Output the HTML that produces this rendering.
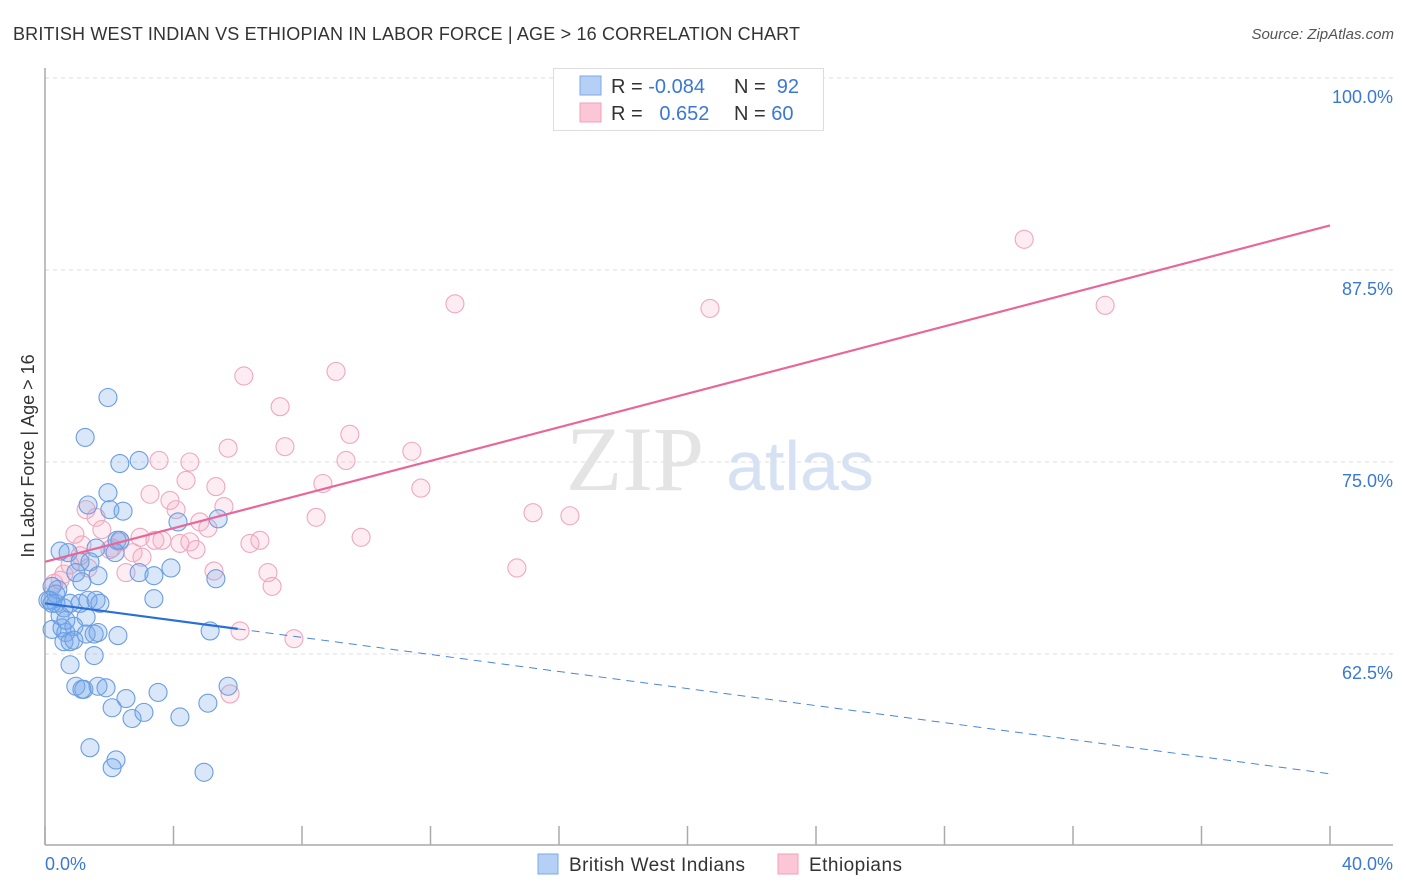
<!DOCTYPE html>
<html><head><meta charset="utf-8"><style>
body{margin:0;background:#fff;font-family:"Liberation Sans",sans-serif;}
svg{display:block}
</style></head><body>
<svg id="chart" width="1406" height="892" xmlns="http://www.w3.org/2000/svg" font-family="Liberation Sans, sans-serif">
<text x="13" y="40" font-size="18" fill="#333" textLength="787">BRITISH WEST INDIAN VS ETHIOPIAN IN LABOR FORCE | AGE &gt; 16 CORRELATION CHART</text>
<text x="1394" y="39" font-size="15" fill="#555" font-style="italic" text-anchor="end">Source: ZipAtlas.com</text>
<g id="grid"></g>
<g>
<text x="635" y="490" font-size="92" font-family="Liberation Serif, serif" fill="#e4e4e4" text-anchor="middle">ZIP</text>
<text x="800" y="490" font-size="70" fill="#d6e2f3" text-anchor="middle">atlas</text>
</g>
<line x1="45" y1="68" x2="45" y2="845" stroke="#aaa" stroke-width="1.5"/>
<line x1="45" y1="845" x2="1393" y2="845" stroke="#aaa" stroke-width="1.5"/>
<g id="xticks"></g>
<g id="ylabels"></g>
<text x="45" y="870" font-size="18" fill="#3a78d4">0.0%</text>
<text x="1393" y="870" font-size="18" fill="#3a78d4" text-anchor="end">40.0%</text>
<text transform="translate(34,456) rotate(-90)" font-size="18" fill="#333" text-anchor="middle">In Labor Force | Age &gt; 16</text>
<g id="pinkpts"></g>
<g id="bluepts"></g>
<g id="trends"></g>
<g>
<rect x="553.5" y="68.5" width="270" height="62" fill="#fff" stroke="#ddd"/>
<rect x="580" y="76" width="21" height="19" fill="#b6d0f5" stroke="#7aaae8"/>
<rect x="580" y="103" width="21" height="19" fill="#fbc7d7" stroke="#f0a0b8"/>
<text x="611" y="93" font-size="20" fill="#333">R = <tspan fill="#3a78d4">-0.084</tspan></text>
<text x="734" y="93" font-size="20" fill="#333">N = <tspan fill="#3a78d4">&#160;92</tspan></text>
<text x="611" y="120" font-size="20" fill="#333">R = <tspan fill="#3a78d4">&#160;&#160;0.652</tspan></text>
<text x="734" y="120" font-size="20" fill="#333">N = <tspan fill="#3a78d4">60</tspan></text>
</g>
<g>
<rect x="538" y="854" width="20" height="20" fill="#b6d0f5" stroke="#7aaae8"/>
<text x="569" y="871" font-size="19" fill="#333" textLength="176">British West Indians</text>
<rect x="778" y="854" width="20" height="20" fill="#fbc7d7" stroke="#f0a0b8"/>
<text x="809" y="871" font-size="19" fill="#333" textLength="93">Ethiopians</text>
</g>
</svg>
<script>
const blueX=[1.96,1.25,2.33,2.93,1.96,1.34,2.02,2.43,4.14,5.39,0.47,0.72,2.24,2.33,2.18,1.59,1.09,1.40,0.96,1.65,1.15,2.93,3.39,3.92,5.32,0.22,0.34,0.16,0.34,0.59,0.78,1.09,1.34,1.59,1.71,3.39,0.47,1.28,0.22,0.53,0.65,0.90,1.28,1.53,1.65,2.27,0.59,0.78,1.53,0.78,5.14,0.96,1.21,1.65,1.90,2.52,3.52,5.70,2.09,2.71,3.08,4.20,5.07,1.40,2.21,2.09,4.95,0.09,0.22,0.40,0.65,0.90,1.15];
const blueY=[79.2,76.6,74.9,75.1,73.0,72.2,71.9,71.8,71.1,71.3,69.2,69.1,69.9,69.9,69.1,69.4,68.5,68.5,67.8,67.6,67.2,67.8,67.6,68.1,67.4,66.9,66.4,66.0,65.8,65.5,65.8,65.8,66.0,66.0,65.8,66.1,65.0,64.9,64.1,64.2,63.9,64.3,63.8,63.8,63.9,63.7,63.3,63.3,62.4,61.8,64.0,60.4,60.2,60.4,60.3,59.6,60.0,60.4,59.0,58.3,58.7,58.4,59.3,56.4,55.6,55.1,54.8,66.0,65.8,66.7,64.7,63.4,60.2];
const pinkX=[30.48,12.76,20.70,33.0,9.06,6.19,7.32,9.49,5.70,7.47,11.42,9.37,3.55,4.51,4.39,5.32,3.27,8.65,11.70,3.89,5.57,1.28,1.59,4.08,4.82,5.07,8.44,15.19,16.34,0.93,1.77,2.96,3.42,4.20,3.64,4.70,6.38,6.69,9.84,1.15,2.02,2.74,3.02,0.78,1.34,2.52,5.26,6.94,7.07,14.69,0.47,6.07,7.75,5.76,0.28,0.59,2.09,2.33,4.51,1.09];
const pinkY=[89.5,85.3,85.0,85.2,80.9,80.6,78.6,76.8,75.9,76.0,75.7,75.1,75.1,75.0,73.8,73.4,72.9,73.6,73.3,72.5,72.1,71.9,71.4,71.9,71.1,70.7,71.4,71.7,71.5,70.3,70.6,70.1,69.9,69.7,69.9,69.3,69.7,69.9,70.1,69.6,69.3,69.1,68.8,68.3,68.1,67.8,67.9,67.8,66.9,68.1,67.3,64.0,63.5,59.9,67.1,67.7,69.4,69.8,69.8,68.9];
const blueTrend=[65.8,54.7]; // y at x=0 and x=40
const blueSolidEnd=6.0;
const pinkTrend=[68.5,90.4];
const yTicks=[100,87.5,75,62.5];
const yTickLabels=["100.0%","87.5%","75.0%","62.5%"];
const xTicks=[0,4,8,12,16,20,24,28,32,36,40];

const NS="http://www.w3.org/2000/svg";
const sx=v=>45+v/40*1285;
const sy=v=>78+(100-v)/12.5*192;
function mk(tag,attrs,parent){const e=document.createElementNS(NS,tag);for(const k in attrs)e.setAttribute(k,attrs[k]);parent.appendChild(e);return e;}
const grid=document.getElementById('grid'),yl=document.getElementById('ylabels');
yTicks.forEach((t,i)=>{
  const l=mk('line',{x1:45,x2:1393,y1:sy(t),y2:sy(t),stroke:'#ddd','stroke-dasharray':'4,4'},grid);
  
  
  const tx=mk('text',{x:1393,y:sy(t)+25,'font-size':18,fill:'#3a78d4','text-anchor':'end'},yl);
  tx.textContent=yTickLabels[i];
  
  
});
const xt=document.getElementById('xticks');
xTicks.forEach(t=>{
  const l=mk('line',{x1:sx(t),x2:sx(t),y1:826,y2:845,stroke:'#aaa','stroke-width':1.5},xt);
  
  
});
function pts(xs,ys,g,fill,stroke,name){
  xs.forEach((x,i)=>{
    const c=mk('circle',{cx:sx(x),cy:sy(ys[i]),r:9,fill:fill,stroke:stroke,'stroke-width':1.1},g);
    
    
  });
}
pts(pinkX,pinkY,document.getElementById('pinkpts'),'rgba(246,170,195,0.22)','#efa8be','ethiopian-point');
pts(blueX,blueY,document.getElementById('bluepts'),'rgba(120,168,235,0.28)','#6a9de3','bwi-point');
const tr=document.getElementById('trends');
const by=x=>blueTrend[0]+(blueTrend[1]-blueTrend[0])*x/40;
const l1=mk('line',{x1:sx(0),y1:sy(by(0)),x2:sx(blueSolidEnd),y2:sy(by(blueSolidEnd)),stroke:'#2a6fd6','stroke-width':2.2},tr);


const l2=mk('line',{x1:sx(blueSolidEnd),y1:sy(by(blueSolidEnd)),x2:sx(40),y2:sy(by(40)),stroke:'#4a85da','stroke-width':1,'stroke-dasharray':'8,6'},tr);


const l3=mk('line',{x1:sx(0),y1:sy(pinkTrend[0]),x2:sx(40),y2:sy(pinkTrend[1]),stroke:'#e8679a','stroke-width':2.2},tr);


</script>
</body></html>
